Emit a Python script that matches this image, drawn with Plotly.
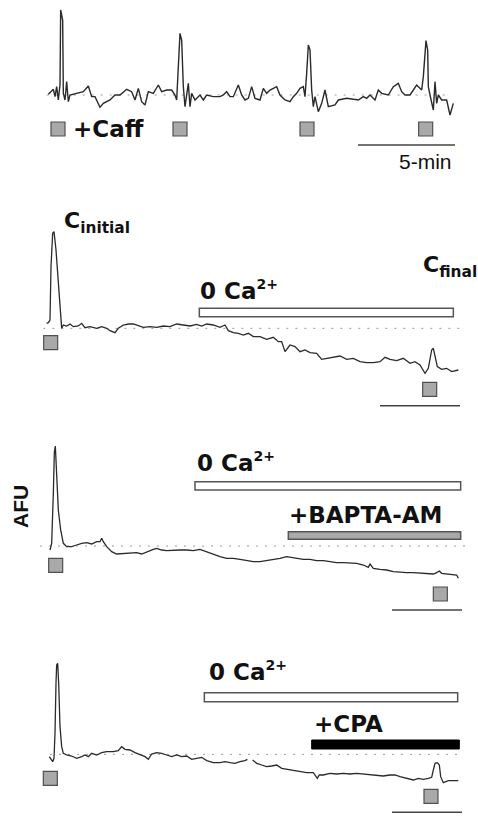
import plotly.graph_objects as go

# ---------------- DATA (time in s, fluorescence in AFU, baseline = 0) ----------------
# Panel 1: repeated caffeine challenges
t1 = [4, 12, 19, 24, 29, 34, 39, 41, 44, 47, 49, 54, 59, 64, 69, 89, 109, 124, 134, 144, 159, 169, 189, 204,
      219, 239, 254, 264, 274, 284, 294, 304, 319, 334, 344, 359, 374, 384, 389, 394, 399, 404, 409, 414, 419,
      424, 429, 434, 444, 459, 469, 479, 499, 519, 529, 539, 549, 559, 574, 584, 594, 604, 614, 624, 639, 649,
      659, 669, 679, 689, 699, 714, 729, 739, 749, 759, 769, 774, 779, 784, 789, 794, 799, 804, 814, 824, 834,
      844, 864, 874, 899, 934, 949, 959, 969, 984, 994, 1004, 1024, 1039, 1054, 1064, 1074, 1089, 1109, 1124,
      1129, 1134, 1137, 1142, 1144, 1149, 1159, 1164, 1169, 1174, 1184, 1199, 1209, 1219]
a1 = [2, 10, 17, -5, 25, -15, 30, 255, 240, 225, 5, -15, 40, -20, 0, 5, 10, 27, -5, -5, -37, -25, -15, 0,
      0, 17, 10, -15, 20, -20, -30, 10, 5, 30, 10, 15, 15, 0, -15, 85, 185, 165, 25, -35, 5,
      35, -35, 5, -15, 0, -15, 0, -5, -5, 0, 10, -5, -5, 30, 0, -15, -10, 25, -10, -15, 20,
      5, 15, 20, 25, 0, -15, -20, -5, 5, 20, 25, -5, 65, 150, 135, 15, -35, -5, -50, -25, 15,
      -35, -30, -15, -10, -15, -5, -10, 0, -15, 15, 5, 0, 25, 35, 10, 0, 0, 30, 15,
      55, 125, 163, 135, 25, 0, -45, 40, -25, 0, -15, -15, -60, -25]
caff_t1 = [33, 399, 780, 1136]

# Panel 2: 0 Ca2+
t2 = [-1, 4, 9, 12, 17, 21, 27, 34, 41, 44, 49, 59, 69, 79, 94, 104, 114, 129, 149, 164, 179, 189, 204, 214,
      229, 244, 259, 274, 289, 309, 329, 349, 369, 389, 409, 429, 449, 464, 479, 499, 519, 534, 544, 559, 574,
      589, 604, 619, 639, 659, 679, 694, 704, 714, 729, 744, 759, 774, 789, 809, 824, 839, 859, 879, 899, 919,
      939, 959, 979, 999, 1014, 1029, 1049, 1069, 1089, 1104, 1119, 1134, 1144, 1154, 1159, 1164, 1171, 1184,
      1199, 1214, 1234]
a2 = [15, 17, 25, 185, 285, 290, 235, 135, 45, 0, 10, 7, 13, 5, 7, 15, 2, 5, 0, 5, 0, -7, -13, 0,
      10, 13, 13, 7, 3, 5, 3, 7, 5, 13, 10, 7, 12, 7, 13, 10, 3, 10, -7, -13, -15,
      -20, -15, -25, -25, -33, -27, -40, -40, -70, -50, -55, -70, -65, -73, -75, -93, -90, -87, -83, -93, -90,
      -100, -103, -103, -100, -87, -93, -97, -90, -105, -100, -110, -135, -120, -65, -60, -85, -115, -123,
      -120, -130, -125]
caff_t2 = [11, 1148]

# Panel 3: 0 Ca2+ + BAPTA-AM
t3 = [9, 14, 19, 22, 25, 29, 34, 41, 49, 59, 74, 89, 104, 119, 134, 149, 159, 164, 169, 179, 194, 209, 229,
      249, 269, 284, 299, 319, 329, 344, 359, 379, 399, 419, 439, 459, 469, 484, 499, 519, 539, 559, 579, 599,
      619, 639, 659, 679, 699, 719, 734, 749, 769, 789, 809, 829, 849, 869, 889, 909, 929, 949, 964, 969, 979,
      999, 1019, 1039, 1059, 1079, 1099, 1119, 1139, 1159, 1169, 1177, 1184, 1199, 1219, 1229, 1234]
a3 = [-12, 8, 158, 280, 300, 208, 108, 48, 8, -2, -2, 3, 8, 10, 6, 13, 13, 23, 13, -2, -17, -24, -22,
      -20, -20, -24, -17, -10, -7, -12, -14, -12, -12, -12, -14, -10, -14, -20, -24, -32, -37, -37, -40, -44,
      -47, -47, -44, -40, -37, -32, -34, -37, -40, -40, -44, -44, -47, -50, -50, -52, -52, -57, -64, -54, -67,
      -70, -72, -77, -79, -80, -80, -82, -84, -84, -80, -75, -82, -84, -85, -87, -97]
caff_t3 = [26, 1180]

# Panel 4: 0 Ca2+ + CPA (trace has a short gap)
t4 = [7, 11, 17, 21, 24, 27, 29, 32, 35, 39, 44, 49, 59, 74, 89, 104, 114, 124, 134, 149, 164, 179, 199, 214,
      224, 234, 249, 264, 279, 294, 304, 314, 329, 344, 359, 374, 389, 404, 419, 434, 449, 464, 479, 499, 519,
      534, 549, 564, 579, 594, 601, 609, 617, 629, 644, 659, 674, 689, 704, 719, 739, 759, 779, 799, 811, 817,
      829, 849, 869, 889, 909, 929, 949, 969, 989, 1009, 1029, 1044, 1059, 1079, 1099, 1114, 1129, 1144, 1154,
      1159, 1164, 1171, 1177, 1181, 1189, 1204, 1234]
a4 = [-7, -15, -22, -12, 63, 213, 268, 273, 213, 83, 23, 3, -2, -5, -12, -7, -2, -7, 3, -2, 5, 8, 8, 11,
      23, 15, 13, 5, -2, -7, -15, 1, 5, 3, -2, -7, -2, -7, -5, -15, -12, -9, -19, -25, -25,
      -22, -25, -27, -22, -19, -15, None, -17, -27, -32, -37, -35, -32, -42, -45, -49, -52, -55, -55, -72, -62,
      -62, -57, -59, -57, -59, -57, -59, -59, -62, -65, -62, -62, -67, -72, -77, -72, -75, -72, -69,
      -47, -27, -25, -32, -67, -85, -79, -79]
caff_t4 = [10, 1152]

# Treatment periods (start, end) in s
zero_ca = [(457, 1219), (444, 1241), (472, 1232)]
bapta = (724, 1241)
cpa = (794, 1237)

# Scale bars (start, end) in s  -- 5 min in top panel
scale_bars = [(933, 1224), (999, 1239), (1035, 1245), (1035, 1245)]

# ---------------- LAYOUT HELPERS ----------------
W, H = 478, 816
XR = [-141, 1293]            # time range shown across full width
# (baseline pixel, band top px, band bottom px) for each panel
panels = [(95, 0, 175), (328.33, 175, 415), (546, 415, 615), (754.33, 615, 816)]

fig = go.Figure()
TRACE_COL = "#2a2a2a"
series = [(t1, a1), (t2, a2), (t3, a3), (t4, a4)]
caffs = [caff_t1, caff_t2, caff_t3, caff_t4]
sq_level = [-102, -43, -58, -72]
sq_level_final = [None, -183, -144, -126]
base_span = [(-1, 1199), (-11, 1239), (-21, 1269), (9, 1234)]
scale_y = [-150, -232, -192, -174]
trace_w = [1.4, 1.3, 1.3, 1.3]

layout_axes = {}
for i, (b, top, bot) in enumerate(panels):
    k = "" if i == 0 else str(i + 1)
    layout_axes["xaxis" + k] = dict(domain=[0, 1], range=XR, visible=False, anchor="y" + k, fixedrange=True)
    layout_axes["yaxis" + k] = dict(domain=[1 - bot / H, 1 - top / H], range=[(b - bot) * 3, (b - top) * 3],
                                    visible=False, anchor="x" + k, fixedrange=True)

shapes = []
for i in range(4):
    k = "" if i == 0 else str(i + 1)
    xr, yr = "x" + k, "y" + k
    # dotted baseline
    shapes.append(dict(type="line", xref=xr, yref=yr, x0=base_span[i][0], x1=base_span[i][1], y0=0, y1=0,
                       line=dict(color="#9a9a9a", width=1, dash="2px,7px"), layer="below"))
    # trace
    t, a = series[i]
    fig.add_trace(go.Scatter(x=t, y=a, mode="lines", line=dict(color=TRACE_COL, width=trace_w[i]),
                             connectgaps=False, xaxis=xr, yaxis=yr, hoverinfo="skip", showlegend=False))
    # caffeine squares
    c = caffs[i]
    ys = [sq_level[i]] * len(c) if i == 0 else [sq_level[i], sq_level_final[i]]
    fig.add_trace(go.Scatter(x=c, y=ys, mode="markers",
                             marker=dict(symbol="square", size=14, color="#a9a9a9",
                                         line=dict(color="#505050", width=1.2)),
                             xaxis=xr, yaxis=yr, hoverinfo="skip", showlegend=False))
    # scale bar
    shapes.append(dict(type="line", xref=xr, yref=yr, x0=scale_bars[i][0], x1=scale_bars[i][1],
                       y0=scale_y[i], y1=scale_y[i], line=dict(color="#444444", width=1.5)))

# treatment bars
bar_line = dict(color="#555555", width=1.5)
shapes.append(dict(type="rect", xref="x2", yref="y2", x0=zero_ca[0][0], x1=zero_ca[0][1], y0=35, y1=60,
                   fillcolor="white", line=bar_line))
shapes.append(dict(type="rect", xref="x3", yref="y3", x0=zero_ca[1][0], x1=zero_ca[1][1], y0=168, y1=193,
                   fillcolor="white", line=bar_line))
shapes.append(dict(type="rect", xref="x3", yref="y3", x0=bapta[0], x1=bapta[1], y0=20, y1=43,
                   fillcolor="#a9a9a9", line=bar_line))
shapes.append(dict(type="rect", xref="x4", yref="y4", x0=zero_ca[2][0], x1=zero_ca[2][1], y0=158, y1=185,
                   fillcolor="white", line=bar_line))
shapes.append(dict(type="rect", xref="x4", yref="y4", x0=cpa[0], x1=cpa[1], y0=16, y1=43,
                   fillcolor="#000000", line=dict(color="#000000", width=1)))


def P(px, py):
    return px / W, 1 - py / H


BOLD = "DejaVu Sans"
annots = []


def label(text, px, py, size=23, family=BOLD, xanchor="left", angle=0, bold=True):
    x, y = P(px, py)
    t = f"<b>{text}</b>" if bold else text
    annots.append(dict(text=t, x=x, y=y, xref="paper", yref="paper", xanchor=xanchor, yanchor="middle",
                       showarrow=False, textangle=angle, font=dict(family=family, size=size, color="#111111")))


SUP = "<sup><span style='font-size:14px'>2+</span></sup>"
label("+Caff", 71, 129)
label("5-min", 397, 162, size=21, family="Liberation Sans", bold=False)
label("C<sub>initial</sub>", 62, 223, size=22)
label("C<sub>final</sub>", 421, 267, size=22)
label("0 Ca" + SUP, 198, 290)
label("0 Ca" + SUP, 195, 462)
label("0 Ca" + SUP, 207, 671)
label("+BAPTA-AM", 287, 515)
label("+CPA", 312, 724)
label("AFU", 20, 507, size=21, family="Liberation Sans", xanchor="center", angle=-90)

fig.update_layout(width=W, height=H, margin=dict(l=0, r=0, t=0, b=0), paper_bgcolor="white",
                  plot_bgcolor="white", shapes=shapes, annotations=annots, hovermode=False,
                  showlegend=False, **layout_axes)

fig.write_html("out.html", config={"displayModeBar": False})
